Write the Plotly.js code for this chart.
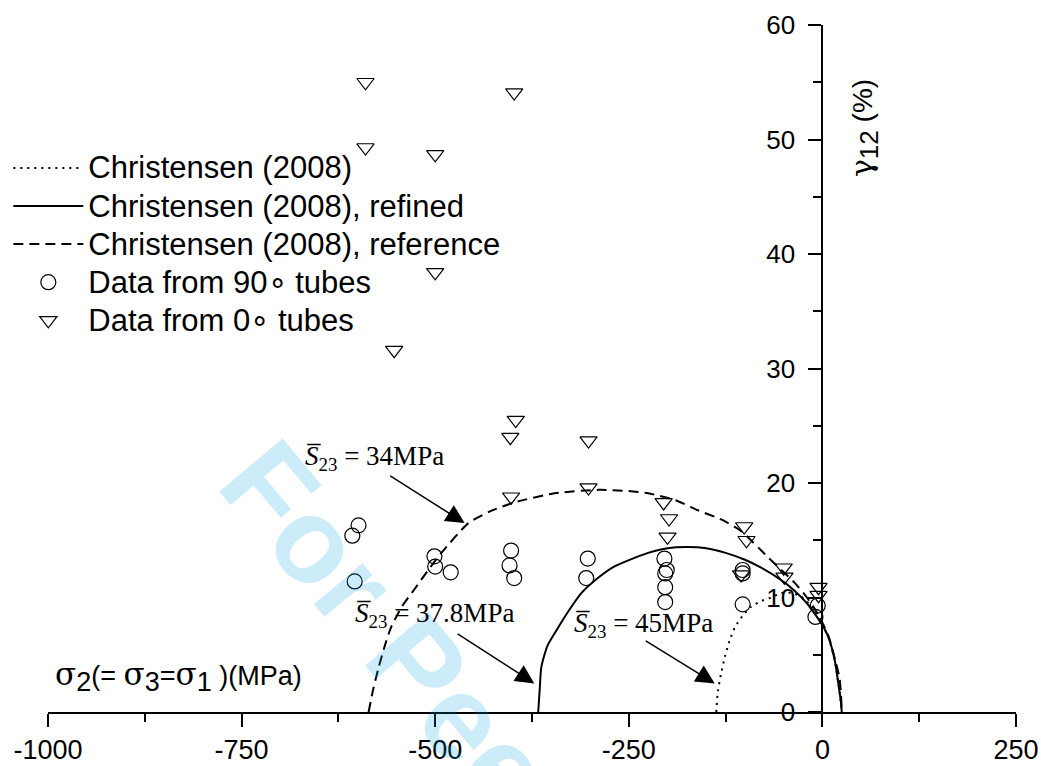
<!DOCTYPE html>
<html><head><meta charset="utf-8">
<script src="https://cdn.plot.ly/plotly-3.0.1.min.js"></script>
<style>html,body{margin:0;padding:0;background:#fff}#chart{width:1041px;height:766px}</style>
</head><body><div id="chart"></div>
<script>
// ---- data ----
const xTickVals = [-1000, -750, -500, -250, 0, 250];
const xTickText = ['-1000', '-750', '-500', '-250', '0', '250'];
const yTickVals = [0, 10, 20, 30, 40, 50, 60];

// Christensen (2008), S23 = 45 MPa (dotted)
const dottedX = [-137, -135, -131, -126, -120, -113, -103, -92, -79, -66, -53, -40, -28, -15, -5, 0, 8, 16, 21, 24, 25];
const dottedY = [0, 1.8, 3.3, 4.8, 6.2, 7.4, 8.4, 9.2, 9.7, 10.0, 10.4, 10.4, 10.1, 9.3, 8.4, 7.6, 6.5, 4.5, 2.3, 0.8, 0];

// Christensen (2008), refined, S23 = 37.8 MPa (solid)
const solidX = [-367, -365, -363, -355, -341, -328, -311, -290, -269, -245, -225, -200, -175, -150, -125, -100, -79, -55, -36, -20, -8, 0, 8, 16, 21, 24, 25];
const solidY = [0, 2, 3.9, 5.8, 7.4, 8.8, 10.4, 11.7, 12.7, 13.4, 13.9, 14.3, 14.4, 14.3, 13.9, 13.3, 12.6, 11.6, 10.6, 9.5, 8.4, 7.6, 6.5, 4.5, 2.3, 0.8, 0];

// Christensen (2008), reference, S23 = 34 MPa (dashed)
const dashedX = [-586, -580, -573, -565, -557, -543, -527, -510, -492, -457, -430, -398, -346, -289, -250, -225, -190, -160, -130, -105, -70, -53, -36, -20, -8, 0, 8, 16, 22, 24, 25];
const dashedY = [0, 2, 3.9, 5.8, 7.4, 9.2, 10.7, 12.3, 13.9, 16.5, 17.5, 18.3, 19.1, 19.4, 19.3, 19.1, 18.5, 17.6, 16.8, 15.8, 13.5, 12.4, 11.3, 10.0, 8.8, 7.8, 6.6, 4.7, 3.0, 1.5, 0];

// Data from 90° tubes (circles)
const tubes90X = [-599, -607, -604, -501, -500, -480, -402, -404, -398, -303, -305, -204, -201, -203, -203, -203, -103, -103, -103, -6, -9];
const tubes90Y = [16.3, 15.4, 11.4, 13.6, 12.7, 12.2, 14.1, 12.8, 11.7, 13.4, 11.7, 13.4, 12.4, 12.1, 10.9, 9.6, 12.4, 12.1, 9.4, 9.3, 8.3];

// Data from 0° tubes (triangles)
const tubes0X = [-590, -398, -590, -500, -500, -553, -396, -403, -302, -402, -302, -205, -198, -200, -101, -98, -50, -49, -105, -5, -5];
const tubes0Y = [55.0, 54.1, 49.3, 48.7, 38.4, 31.6, 25.5, 24.0, 23.7, 18.8, 19.6, 18.3, 16.9, 15.3, 16.2, 15.0, 12.6, 11.8, 12.0, 10.9, 10.2];

const seriesNames = ['Christensen (2008)', 'Christensen (2008), refined', 'Christensen (2008), reference', 'Data from 90\u2218 tubes', 'Data from 0\u2218 tubes'];
const labelTexts = ['34MPa', '37.8MPa', '45MPa'];

const legName = (s) => '<span style="font-size:31px">' + s + '</span>';

// ---- traces ----
const traces = [
  {x: dottedX, y: dottedY, mode: 'lines', name: legName(seriesNames[0]),
   line: {color: 'black', width: 2, dash: '2px,5px', shape: 'spline', smoothing: 0.6}},
  {x: solidX, y: solidY, mode: 'lines', name: legName(seriesNames[1]),
   line: {color: 'black', width: 2, shape: 'spline', smoothing: 0.6}},
  {x: dashedX, y: dashedY, mode: 'lines', name: legName(seriesNames[2]),
   line: {color: 'black', width: 2, dash: '10px,6px', shape: 'spline', smoothing: 0.6}},
  {x: tubes90X, y: tubes90Y, mode: 'markers', name: legName(seriesNames[3]),
   marker: {symbol: 'circle-open', size: 15, color: 'black', line: {width: 1.2, color: 'black'}}},
  {x: tubes0X, y: tubes0Y, mode: 'markers', name: legName(seriesNames[4]),
   marker: {symbol: 'triangle-down-open', size: 15, color: 'black', line: {width: 1.2, color: 'black'}}}
];

const serif = 'Liberation Serif, Times New Roman, serif';
const sbar = '<i>S\u0305</i><sub>23</sub> = ';
const sig = '<span style="font-family:DejaVu Serif;font-size:31px">\u03c3</span>';
const sub = (s, fs) => '<sub><span style="font-size:' + fs + 'px">' + s + '</span></sub>';

const layout = {
  width: 1041, height: 766,
  margin: {l: 48, r: 25, t: 25, b: 54, autoexpand: false},
  paper_bgcolor: 'white', plot_bgcolor: 'white',
  font: {family: 'Liberation Sans, Arial, sans-serif', color: 'black'},
  showlegend: true,
  legend: {xref: 'container', x: 0.008, xanchor: 'left', y: 0.827, yanchor: 'top', font: {size: 27},
           bgcolor: 'rgba(0,0,0,0)', itemwidth: 70, tracegroupgap: 0},
  xaxis: {range: [-1000, 250], tickmode: 'array', tickvals: xTickVals, ticktext: xTickText, ticks: 'outside', ticklen: 13,
          tickwidth: 2, tickcolor: 'black', showline: true, linewidth: 2, linecolor: 'black',
          showgrid: false, zeroline: false, tickfont: {size: 27},
          minor: {dtick: 125, tick0: 0, ticks: 'outside', ticklen: 8, tickwidth: 2, tickcolor: 'black'}},
  yaxis: {range: [0, 60], anchor: 'free', position: 0.8, side: 'left', tickmode: 'array', tickvals: yTickVals,
          ticks: 'outside', ticklen: 13, tickwidth: 2, tickcolor: 'black', showline: true, linewidth: 2,
          linecolor: 'black', showgrid: false, zeroline: false, tickfont: {size: 26}, ticklabelstandoff: 8,
          minor: {dtick: 5, tick0: 0, ticks: 'outside', ticklen: 8, tickwidth: 2, tickcolor: 'black'}},
  annotations: [
    // watermark
    {xref: 'paper', yref: 'paper', x: 0.515, y: -0.151, xanchor: 'center', yanchor: 'middle',
     text: '<b>For Peer Review</b>', showarrow: false, textangle: 50,
     font: {size: 120, color: 'rgba(0,160,230,0.2)', family: 'Liberation Sans, Arial, sans-serif'}},
    // labels
    {xref: 'x', yref: 'y', x: -579, y: 22.2, text: sbar + labelTexts[0], showarrow: false,
     font: {family: serif, size: 27}},
    {xref: 'x', yref: 'y', x: -501, y: 8.5, text: sbar + labelTexts[1], showarrow: false,
     font: {family: serif, size: 27}},
    {xref: 'x', yref: 'y', x: -231, y: 7.6, text: sbar + labelTexts[2], showarrow: false,
     font: {family: serif, size: 27}},
    // arrows
    {xref: 'x', yref: 'y', axref: 'x', ayref: 'y', x: -462, y: 16.5, ax: -560, ay: 20.7, text: '',
     showarrow: true, arrowhead: 2, arrowsize: 2.5, arrowwidth: 1.5, arrowcolor: 'black', standoff: 0},
    {xref: 'x', yref: 'y', axref: 'x', ayref: 'y', x: -372, y: 2.5, ax: -473, ay: 6.9, text: '',
     showarrow: true, arrowhead: 2, arrowsize: 2.5, arrowwidth: 1.5, arrowcolor: 'black', standoff: 0},
    {xref: 'x', yref: 'y', axref: 'x', ayref: 'y', x: -139, y: 2.5, ax: -230, ay: 6.3, text: '',
     showarrow: true, arrowhead: 2, arrowsize: 2.5, arrowwidth: 1.5, arrowcolor: 'black', standoff: 0},
    // axis titles
    {xref: 'paper', yref: 'paper', x: 0.005, y: 0.0524, xanchor: 'left', yanchor: 'middle', showarrow: false,
     text: sig + sub('2', 27) + '(= ' + sig + sub('3', 27) + '=' + sig + sub('1', 27) + ' )(MPa)',
     font: {size: 27}},
    {xref: 'paper', yref: 'paper', x: 0.843, y: 0.85, xanchor: 'center', yanchor: 'middle', showarrow: false,
     textangle: -90, text: '<span style="font-family:DejaVu Serif;font-size:30px">\u03b3</span>' + sub('12', 26) + ' (%)',
     font: {size: 28}}
  ]
};

Plotly.newPlot('chart', traces, layout, {staticPlot: true, displayModeBar: false});
</script>
</body></html>
